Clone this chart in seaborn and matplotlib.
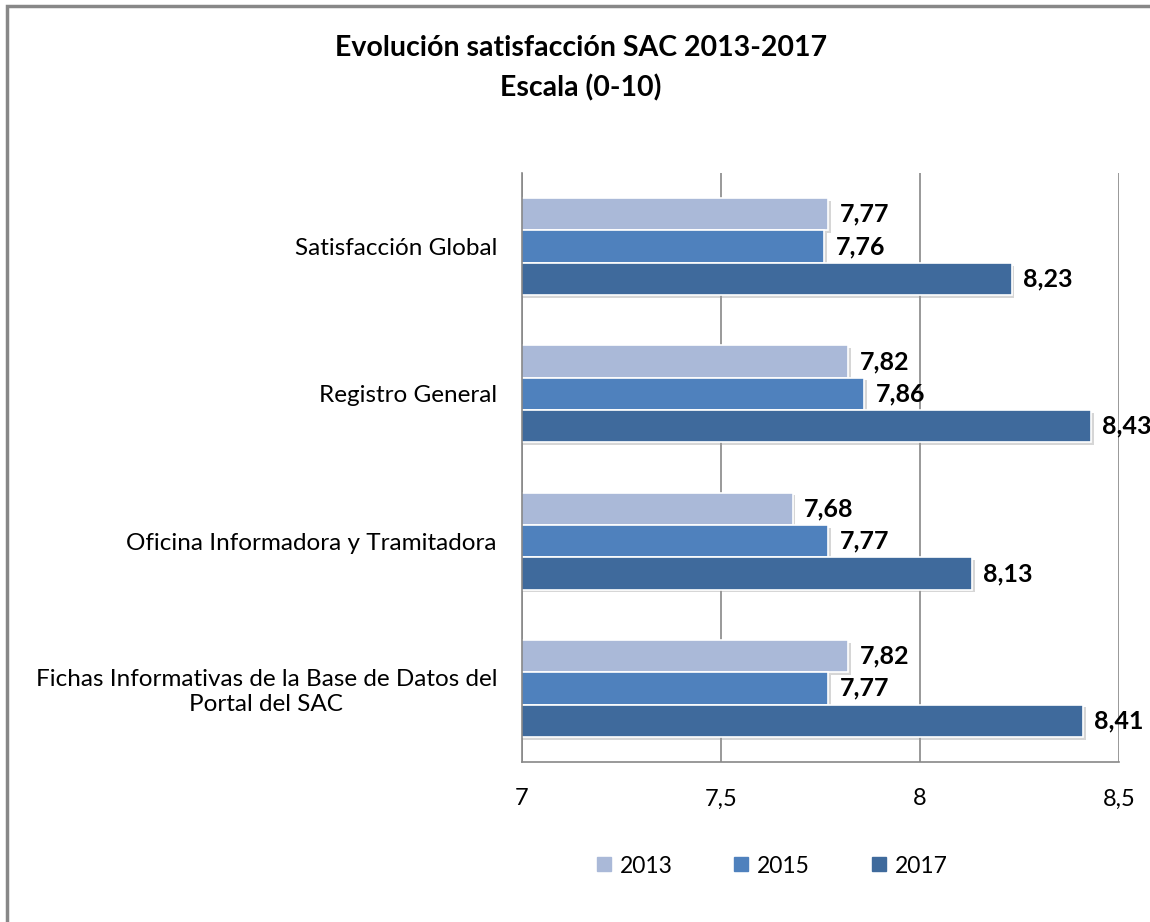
import numpy as np
import matplotlib
matplotlib.use("Agg")
import matplotlib.pyplot as plt
import matplotlib.patheffects as pe
from matplotlib.patches import Rectangle
from matplotlib.lines import Line2D
import pandas as pd
import seaborn as sns

categorias = [
    "Satisfacción Global",
    "Registro General",
    "Oficina Informadora y Tramitadora",
    "Fichas Informativas de la Base de Datos del\nPortal del SAC",
]
anios = ["2013", "2015", "2017"]
v2013 = [7.77, 7.82, 7.68, 7.82]
v2015 = [7.76, 7.86, 7.77, 7.77]
v2017 = [8.23, 8.43, 8.13, 8.41]

df = pd.DataFrame({
    "categoria": categorias * 3,
    "anio": [a for a in anios for _ in categorias],
    "valor": v2013 + v2015 + v2017,
})

sns.set_style("white")
plt.rcParams["font.family"] = ["Lato", "DejaVu Sans"]
plt.rcParams["text.color"] = "black"
plt.rcParams["xtick.color"] = "black"
plt.rcParams["ytick.color"] = "black"

colores = ["#aab9d8", "#4f81bd", "#3f6a9c"]

fig = plt.figure(figsize=(11.5, 9.22), dpi=100)
ax = fig.add_axes([522 / 1150, 1 - 762 / 922, 597 / 1150, 589 / 922])

sns.barplot(data=df, y="categoria", x="valor", hue="anio", palette=colores,
            orient="h", width=0.66, ax=ax, edgecolor="white", linewidth=1.2,
            saturation=1, legend=True)

ax.set_xlim(7, 8.5)
ax.set_ylim(3.5, -0.5)
ax.set_xticks([7, 7.5, 8, 8.5])
ax.set_xticklabels(["7", "7,5", "8", "8,5"], fontsize=17)
ax.tick_params(axis="x", length=6, color="#888888", labelcolor="black", pad=13, direction="out")
ax.xaxis.grid(True, color="#888888", linewidth=1.2)
ax.set_axisbelow(True)

ax.set_yticks(range(len(categorias)))
ax.set_yticklabels(categorias, fontsize=17.5, multialignment="center")
ax.tick_params(axis="y", length=0, pad=18, labelcolor="black")
ax.set_yticks([-0.5, 0.5, 1.5, 2.5, 3.5], minor=True)
ax.tick_params(axis="y", which="minor", length=6, color="#888888", direction="out")

for s in ["top", "right"]:
    ax.spines[s].set_visible(False)
for s in ["left", "bottom"]:
    ax.spines[s].set_color("#888888")
    ax.spines[s].set_linewidth(1.2)
ax.set_xlabel("")
ax.set_ylabel("")

for cont in ax.containers:
    for bar in cont:
        bar.set_path_effects([pe.SimplePatchShadow(offset=(2, -2), shadow_rgbFace="#999999", alpha=0.4), pe.Normal()])
    labels = [f"{b.get_x() + b.get_width():.2f}".replace(".", ",") for b in cont]
    ax.bar_label(cont, labels=labels, padding=8, fontsize=18, fontweight="bold", color="black")

ax.get_legend().remove()
h = [Line2D([], [], marker="s", linestyle="", markersize=9.5, markerfacecolor=c, markeredgecolor=c) for c in colores]
fig.legend(h, anios, loc="center", bbox_to_anchor=(770 / 1150, 1 - 866 / 922), ncol=3,
           frameon=False, fontsize=16.5, handletextpad=0.2, columnspacing=2.5, handlelength=1.0)

fig.text(0.505, 1 - 48 / 922, "Evolución satisfacción SAC 2013-2017", ha="center", va="center",
         fontsize=20.5, fontweight="bold")
fig.text(0.505, 1 - 88 / 922, "Escala (0-10)", ha="center", va="center",
         fontsize=20.5, fontweight="bold")

fig.patches.append(Rectangle((7 / 1150, -0.1), 1.2, 1 - 6 / 922 + 0.1, transform=fig.transFigure,
                             fill=False, edgecolor="#888888", linewidth=2.5))

fig.savefig("out.png", dpi=100)
